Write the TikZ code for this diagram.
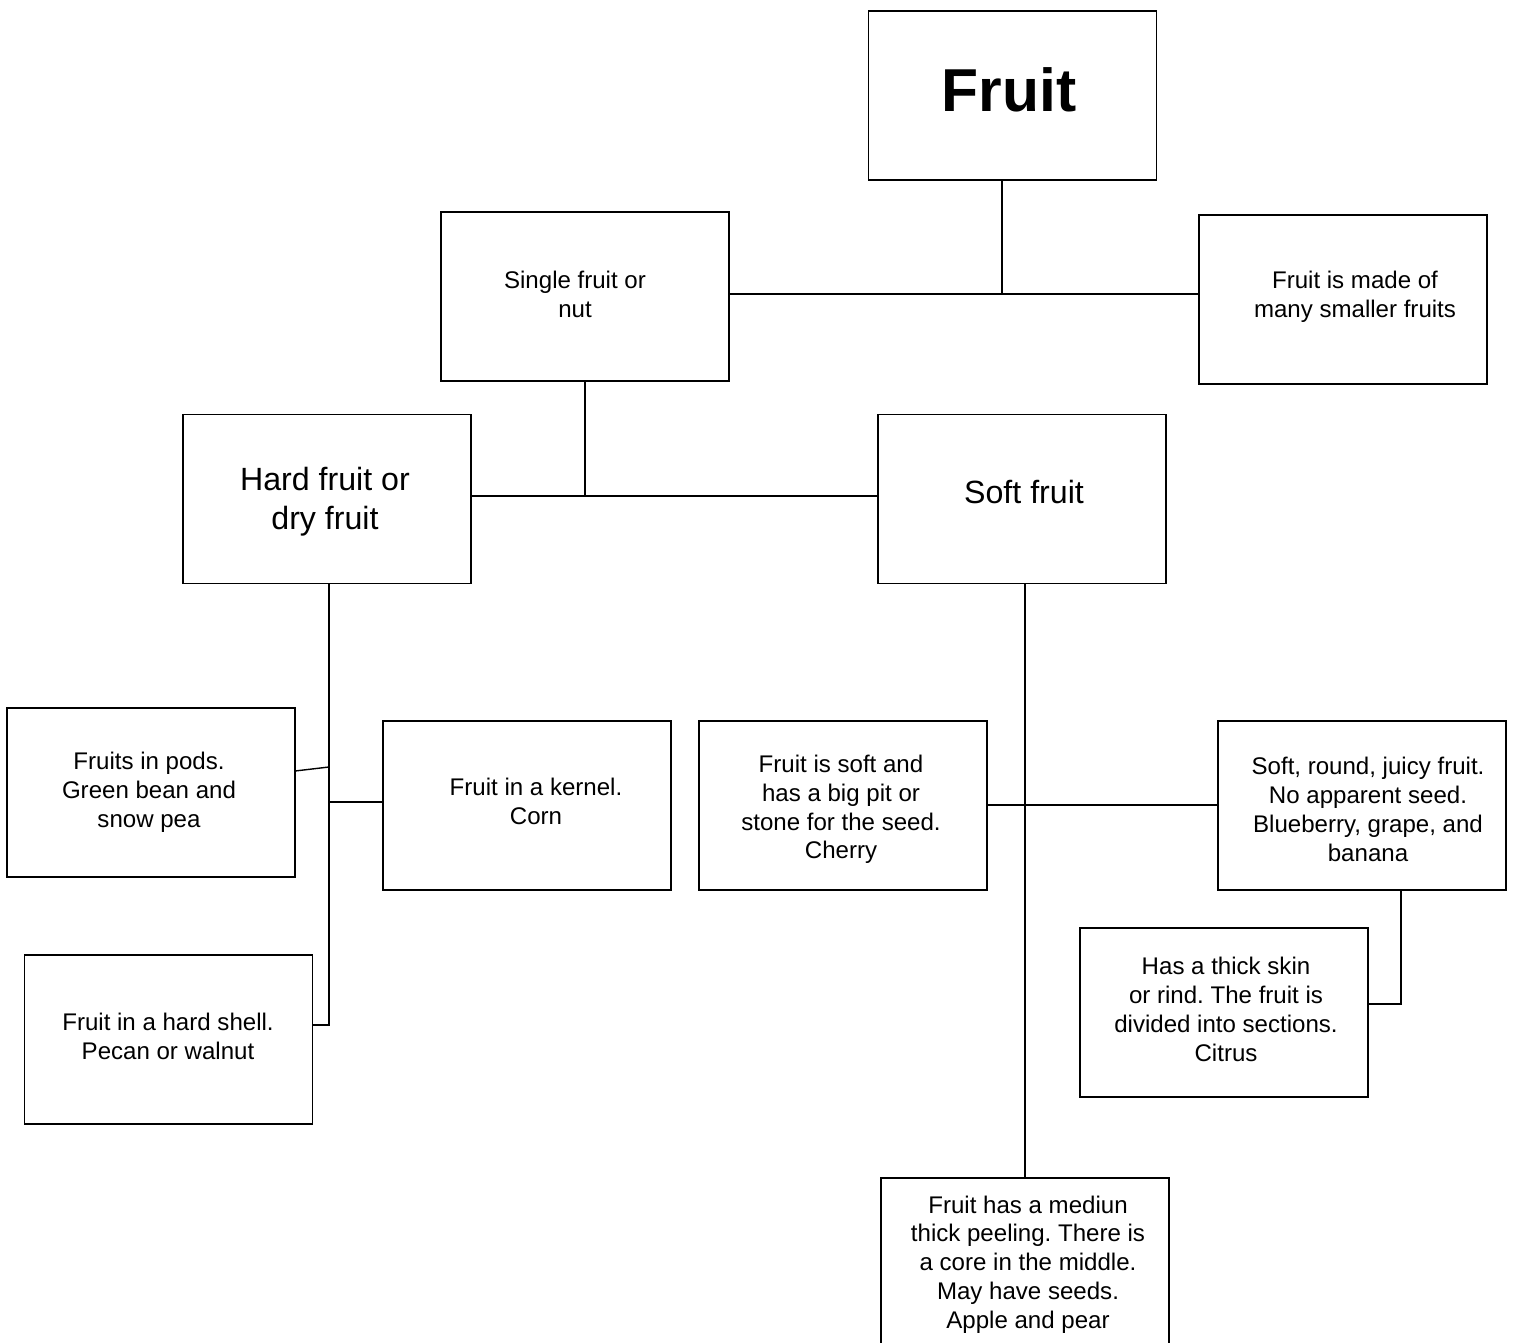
\documentclass[tikz,border=0pt]{standalone}
\usepackage{fontspec}
\setmainfont{Liberation Sans}
\frenchspacing
\begin{document}
\begin{tikzpicture}[x=0.02cm,y=-0.02cm,
  box/.style={draw=black,line width=0.8pt,minimum width=5.76cm,minimum height=3.38cm,inner sep=0pt},
  txt/.style={align=center,font=\fontsize{13.7}{16.4}\selectfont,inner sep=0pt},
  midtxt/.style={align=center,font=\fontsize{18.3}{22.1}\selectfont,inner sep=0pt},
  bigtxt/.style={align=center,font=\fontsize{34.5}{40}\selectfont\bfseries,inner sep=0pt},
  conn/.style={draw=black,line width=0.8pt}]
\useasboundingbox (0,0) rectangle (1514,1342);
\clip (0,0) rectangle (1514,1342);
% boxes
\node[box] (fruit) at (1012.5,95.5) {};
\node[box] (single) at (585,296.5) {};
\node[box] (made) at (1343,299.5) {};
\node[box] (hard) at (327,499) {};
\node[box] (soft) at (1022,499) {};
\node[box] (pods) at (151,792.5) {};
\node[box] (kernel) at (527,805.5) {};
\node[box] (pit) at (843,805.5) {};
\node[box] (round) at (1362,805.5) {};
\node[box] (skin) at (1224,1012.5) {};
\node[box] (shell) at (168.5,1039.5) {};
\node[box] (medium) at (1025,1262.5) {};
% texts
\node[bigtxt] (fruitT) at (1009,89.5) {Fruit};
\node[txt] (singleT) at (575,294) {Single fruit or\\nut};
\node[txt] (madeT) at (1355,297) {Fruit is made of\\many smaller fruits};
\node[midtxt] (hardT) at (325,502) {Hard fruit or\\dry fruit};
\node[midtxt] (softT) at (1024,492) {Soft fruit};
\node[txt] (podsT) at (149,792.5) {Fruits in pods.\\Green bean and\\snow pea};
\node[txt] (kernelT) at (536,801.5) {Fruit in a kernel.\\Corn};
\node[txt] (pitT) at (841,809.5) {Fruit is soft and\\has a big pit or\\stone for the seed.\\Cherry};
\node[txt] (roundT) at (1368,809.5) {Soft, round, juicy fruit.\\No apparent seed.\\Blueberry, grape, and\\banana};
\node[txt] (skinT) at (1226,1009.5) {Has a thick skin\\or rind. The fruit is\\divided into sections.\\Citrus};
\node[txt] (shellT) at (168,1036.5) {Fruit in a hard shell.\\Pecan or walnut};
\node[txt] (mediumT) at (1028,1264.5) {Fruit has a mediun\\thick peeling. There is\\a core in the middle.\\May have seeds.\\Apple and pear};
% junctions
\coordinate (j1) at (1002,294);
\coordinate (j2) at (585,496);
\coordinate (j3) at (329,1025);
\coordinate (p0) at (295,771);
\coordinate (p1) at (329,767);
\coordinate (k1) at (329,802);
\coordinate (j4) at (1025,805);
\coordinate (j5) at (1401,1004);
% connectors
\draw[conn] (j1 |- fruit.south) -- (j1);
\draw[conn] (single.east |- j1) -- (made.west |- j1);
\draw[conn] (j2 |- single.south) -- (j2);
\draw[conn] (hard.east |- j2) -- (soft.west |- j2);
\draw[conn] (j3 |- hard.south) -- (j3) -- (shell.east |- j3);
\draw[conn] (p0) -- (p1);
\draw[conn] (k1) -- (kernel.west |- k1);
\draw[conn] (j4 |- soft.south) -- (j4 |- medium.north);
\draw[conn] (pit.east |- j4) -- (round.west |- j4);
\draw[conn] (j5 |- round.south) -- (j5) -- (skin.east |- j5);
\end{tikzpicture}
\end{document}
